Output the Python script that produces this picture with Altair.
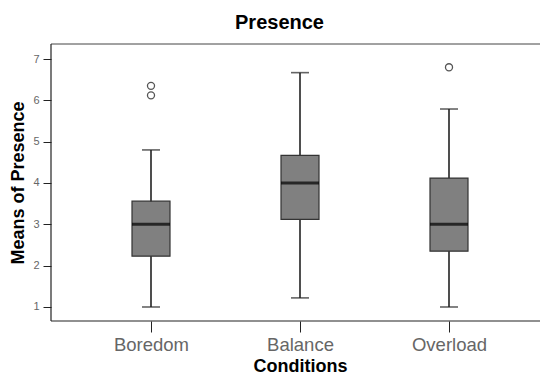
import altair as alt
import pandas as pd

categories = ["Boredom", "Balance", "Overload"]
lower = [1.0, 1.22, 1.0]
q1 = [2.23, 3.12, 2.35]
median = [3.0, 4.0, 3.0]
q3 = [3.56, 4.67, 4.12]
upper = [4.80, 6.67, 5.79]

outlier_cat = ["Boredom", "Boredom", "Overload"]
outlier_val = [6.35, 6.12, 6.80]

y_ticks = [1, 2, 3, 4, 5, 6, 7]

box = pd.DataFrame({"cat": categories, "lower": lower, "q1": q1,
                    "median": median, "q3": q3, "upper": upper})
outl = pd.DataFrame({"cat": outlier_cat, "val": outlier_val})

FONT = "Liberation Sans"
LINE = "#222222"
W, H = 489, 277

xenc = alt.X("cat:N", sort=categories,
             scale=alt.Scale(type="point", range=[100, 398], padding=0),
             axis=alt.Axis(title="Conditions", labelAngle=0, tickSize=11,
                           labelPadding=3, labelFontSize=18.5, labelColor="#666666",
                           labelFont=FONT, titleFont=FONT, titleFontSize=18,
                           titleFontWeight="bold", titleColor="#000000",
                           titlePadding=4, tickColor=LINE, domain=False,
                           grid=False))
yscale = alt.Scale(domain=[0.661, 7.363], nice=False, zero=False)
yaxis = alt.Axis(title="Means of Presence", values=y_ticks, tickSize=8,
                 labelPadding=4, labelFontSize=11, labelColor="#666666",
                 labelFont=FONT, titleFont=FONT, titleFontSize=18,
                 titleFontWeight="bold", titleColor="#000000", titlePadding=5,
                 tickColor=LINE, domain=False, grid=False)

base = alt.Chart(box)
frame_src = alt.Chart(pd.DataFrame({"frame": [0]}))

top_frame = frame_src.mark_rule(color="#444444", strokeWidth=1).encode(
    x=alt.value(0), x2=alt.value(W), y=alt.value(0))
bottom_frame = frame_src.mark_rule(color=LINE, strokeWidth=1.2).encode(
    x=alt.value(0), x2=alt.value(W), y=alt.value(H))
left_frame = frame_src.mark_rule(color=LINE, strokeWidth=1.2).encode(
    x=alt.value(0), y=alt.value(0), y2=alt.value(H))

whisker = base.mark_rule(color=LINE, strokeWidth=1.6).encode(
    x=xenc, y=alt.Y("lower:Q", scale=yscale, axis=yaxis), y2="upper:Q")

bars = base.mark_bar(size=38, fill="#808080", stroke="#333333",
                     strokeWidth=1.2).encode(
    x=xenc, y=alt.Y("q1:Q", scale=yscale), y2="q3:Q")

med = base.mark_tick(size=38, thickness=3, color="#000000").encode(
    x=xenc, y=alt.Y("median:Q", scale=yscale))

cap_lo = base.mark_tick(size=18, thickness=1.6, color=LINE).encode(
    x=xenc, y=alt.Y("lower:Q", scale=yscale))
cap_hi = base.mark_tick(size=18, thickness=1.6, color=LINE).encode(
    x=xenc, y=alt.Y("upper:Q", scale=yscale))

pts = alt.Chart(outl).mark_point(filled=False, size=50, color="#555555",
                                 strokeWidth=1.3, opacity=1).encode(
    x=xenc, y=alt.Y("val:Q", scale=yscale))

chart = alt.layer(whisker, bars, med, cap_lo, cap_hi, pts,
                  top_frame, bottom_frame, left_frame).properties(
    width=W, height=H,
    autosize=alt.AutoSizeParams(type="none"),
    padding={"left": 51, "top": 44, "right": 0, "bottom": 55},
    background="white",
    title=alt.TitleParams("Presence", font=FONT, fontSize=20,
                          fontWeight="bold", color="#000000", offset=10,
                          anchor="middle", dx=-16),
).configure_view(stroke=None)

chart.save("out.html", embed_options={"renderer": "svg", "actions": False})
